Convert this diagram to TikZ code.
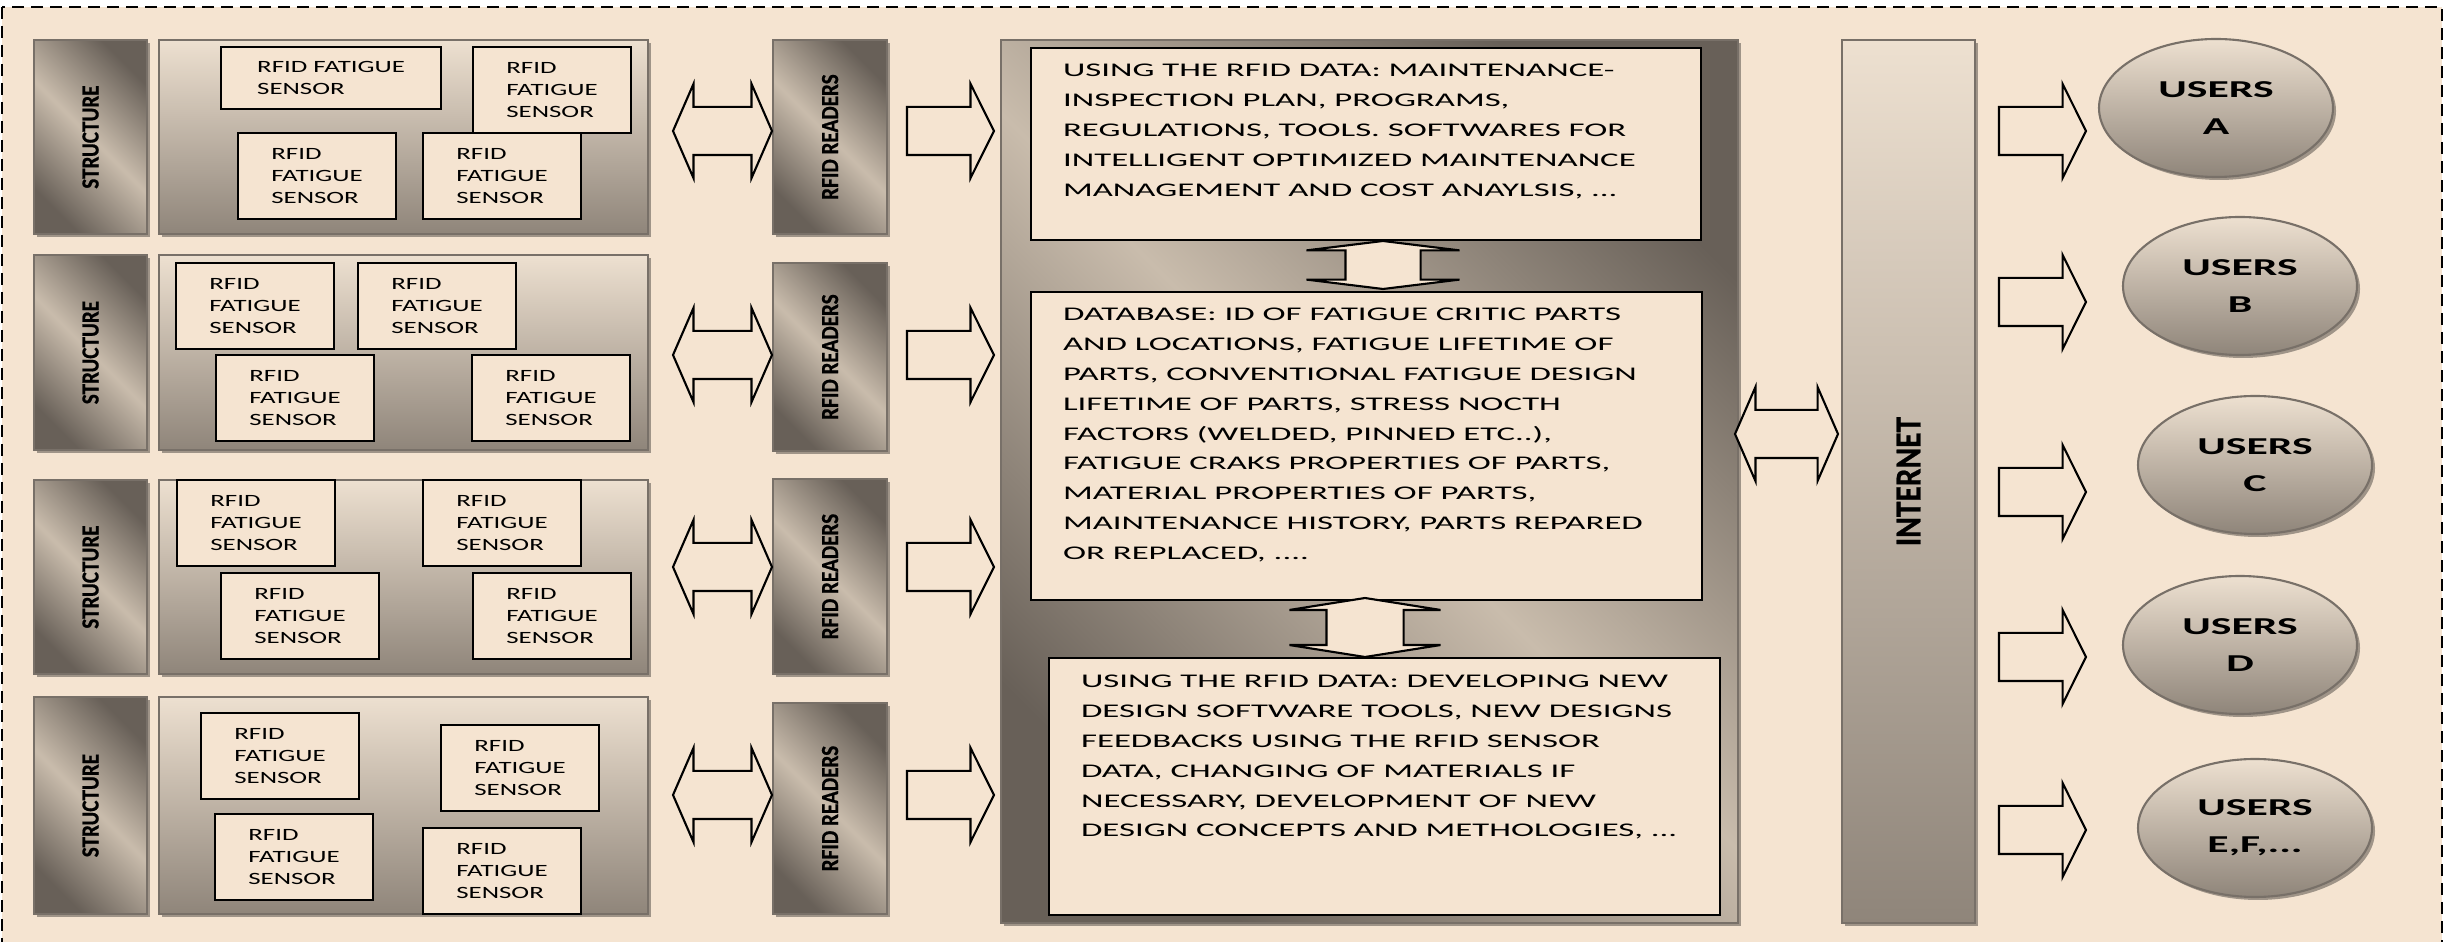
\documentclass[tikz,border=0pt]{standalone}
\usepackage{fontspec}
\usepackage{tikz}
\usetikzlibrary{positioning, shapes.geometric, shapes.arrows, shadows}

\setmainfont{Carlito}
\newfontfamily\boxfont[FakeStretch=1.8]{Carlito}
\newfontfamily\sensfont[FakeStretch=1.56]{Carlito}
\newfontfamily\sidefont[FakeStretch=0.86, FakeBold=0.6]{Carlito}

\definecolor{bgpeach}{RGB}{245,228,209}
\definecolor{gdark}{RGB}{104,96,88}
\definecolor{glight}{RGB}{201,188,172}
\definecolor{plight}{RGB}{237,224,208}
\definecolor{pdark}{RGB}{143,133,122}
\definecolor{gborder}{RGB}{120,112,104}

\begin{document}
\begin{tikzpicture}[line width=0.6pt]

	\tikzset{
		outerframe/.style={draw=black, line width=0.5pt, dash pattern=on 0.12cm off 0.07cm, fill=bgpeach},
		shadowed/.style={drop shadow={shadow xshift=0.03cm, shadow yshift=-0.03cm, opacity=0.35, fill=black}},
		diag/.style={top color=gdark, bottom color=gdark, middle color=glight, shading angle=135},
		sidebox/.style={draw=gborder, anchor=north west, minimum width=1.13cm, inner sep=0pt, diag, shadowed,
				font=\sidefont\bfseries\fontsize{7}{8}\selectfont},
		panel/.style={draw=gborder, anchor=north west, minimum width=4.89cm, inner sep=0pt,
				top color=plight, bottom color=pdark, shadowed},
		sensor/.style={draw=black, fill=bgpeach, anchor=north west, minimum width=1.58cm, minimum height=0.86cm,
				inner sep=0pt, align=left, font=\sensfont\fontsize{4.9}{6.26}\selectfont},
		txtbox/.style={draw=black, fill=bgpeach, anchor=north west, minimum width=6.71cm, inner sep=0pt},
		boxtext/.style={inner sep=0pt, align=left, font=\boxfont\fontsize{5.5}{8.5}\selectfont},
		users/.style={ellipse, draw=gborder, top color=plight, bottom color=pdark, shadowed,
				minimum width=2.34cm, minimum height=1.38cm, inner sep=0pt, align=center,
				font=\boxfont\bfseries\fontsize{6.9}{10.5}\selectfont},
		fwd/.style={single arrow, draw=black, fill=bgpeach, inner sep=0pt, inner ysep=0.23cm,
				minimum height=0.87cm, minimum width=0.92cm, single arrow head extend=0.23cm,
				single arrow tip angle=127},
		twoway/.style={double arrow, draw=black, fill=bgpeach, inner sep=0pt, inner ysep=0.23cm,
				minimum width=0.92cm, double arrow head extend=0.23cm, double arrow tip angle=133},
	}

	\useasboundingbox (0,0) rectangle (24.56,-9.42);
	\draw[outerframe] (0.02,-0.07) rectangle (24.42,-9.60);

	% structures with their sensors
	\node[sidebox, minimum height=1.94cm] (str1) at (0.33,-0.39) {\rotatebox{90}{STRUCTURE}};
	\node[panel, minimum height=1.94cm] (pan1) at (1.58,-0.39) {};
	\node[sensor, minimum width=2.20cm, minimum height=0.62cm] (s11) at (2.20,-0.46) {RFID FATIGUE\\SENSOR};
	\node[sensor] (s12) at (4.72,-0.46) {RFID\\FATIGUE\\SENSOR};
	\node[sensor] (s13) at (2.37,-1.32) {RFID\\FATIGUE\\SENSOR};
	\node[sensor] (s14) at (4.22,-1.32) {RFID\\FATIGUE\\SENSOR};

	\node[sidebox, minimum height=1.95cm] (str2) at (0.33,-2.54) {\rotatebox{90}{STRUCTURE}};
	\node[panel, minimum height=1.95cm] (pan2) at (1.58,-2.54) {};
	\node[sensor] (s21) at (1.75,-2.62) {RFID\\FATIGUE\\SENSOR};
	\node[sensor] (s22) at (3.57,-2.62) {RFID\\FATIGUE\\SENSOR};
	\node[sensor] (s23) at (2.15,-3.54) {RFID\\FATIGUE\\SENSOR};
	\node[sensor] (s24) at (4.71,-3.54) {RFID\\FATIGUE\\SENSOR};

	\node[sidebox, minimum height=1.94cm] (str3) at (0.33,-4.79) {\rotatebox{90}{STRUCTURE}};
	\node[panel, minimum height=1.94cm] (pan3) at (1.58,-4.79) {};
	\node[sensor] (s31) at (1.76,-4.79) {RFID\\FATIGUE\\SENSOR};
	\node[sensor] (s32) at (4.22,-4.79) {RFID\\FATIGUE\\SENSOR};
	\node[sensor] (s33) at (2.20,-5.72) {RFID\\FATIGUE\\SENSOR};
	\node[sensor] (s34) at (4.72,-5.72) {RFID\\FATIGUE\\SENSOR};

	\node[sidebox, minimum height=2.17cm] (str4) at (0.33,-6.96) {\rotatebox{90}{STRUCTURE}};
	\node[panel, minimum height=2.17cm] (pan4) at (1.58,-6.96) {};
	\node[sensor] (s41) at (2.00,-7.12) {RFID\\FATIGUE\\SENSOR};
	\node[sensor] (s42) at (4.40,-7.24) {RFID\\FATIGUE\\SENSOR};
	\node[sensor] (s43) at (2.14,-8.13) {RFID\\FATIGUE\\SENSOR};
	\node[sensor] (s44) at (4.22,-8.27) {RFID\\FATIGUE\\SENSOR};

	% readers
	\node[sidebox, minimum width=1.14cm, minimum height=1.94cm] (rd1) at (7.72,-0.39) {\rotatebox{90}{RFID READERS}};
	\node[sidebox, minimum width=1.14cm, minimum height=1.88cm] (rd2) at (7.72,-2.62) {\rotatebox{90}{RFID READERS}};
	\node[sidebox, minimum width=1.14cm, minimum height=1.95cm] (rd3) at (7.72,-4.78) {\rotatebox{90}{RFID READERS}};
	\node[sidebox, minimum width=1.14cm, minimum height=2.11cm] (rd4) at (7.72,-7.02) {\rotatebox{90}{RFID READERS}};

	\node[twoway, minimum height=0.99cm] (da1) at (7.225,-1.31) {};
	\node[twoway, minimum height=0.99cm] (da2) at (7.225,-3.55) {};
	\node[twoway, minimum height=0.99cm] (da3) at (7.225,-5.67) {};
	\node[twoway, minimum height=0.99cm] (da4) at (7.225,-7.95) {};

	\node[fwd] (fa1) at (9.445,-1.31) {};
	\node[fwd] (fa2) at (9.445,-3.55) {};
	\node[fwd] (fa3) at (9.445,-5.67) {};
	\node[fwd] (fa4) at (9.445,-7.95) {};

	% data handling
	\node[draw=gborder, anchor=north west, minimum width=7.37cm, minimum height=8.83cm, diag, shadowed] (data) at (10.00,-0.39) {};

	\node[txtbox, minimum width=6.70cm, minimum height=1.92cm] (b1) at (10.30,-0.47) {};
	\node[txtbox, minimum height=3.08cm] (b2) at (10.30,-2.91) {};
	\node[txtbox, minimum height=2.57cm] (b3) at (10.48,-6.57) {};

	\node[boxtext, below right=0.16cm and 0.32cm of b1.north west] (t1) {USING THE RFID DATA: MAINTENANCE-\\INSPECTION PLAN, PROGRAMS,\\REGULATIONS, TOOLS. SOFTWARES FOR\\INTELLIGENT OPTIMIZED MAINTENANCE\\MANAGEMENT AND COST ANAYLSIS, ...};
	\node[boxtext, below right=0.16cm and 0.32cm of b2.north west] (t2) {DATABASE: ID OF FATIGUE CRITIC PARTS\\AND LOCATIONS, FATIGUE LIFETIME OF\\PARTS, CONVENTIONAL FATIGUE DESIGN\\LIFETIME OF PARTS, STRESS NOCTH\\FACTORS (WELDED, PINNED ETC..),\\FATIGUE CRAKS PROPERTIES OF PARTS,\\MATERIAL PROPERTIES OF PARTS,\\MAINTENANCE HISTORY, PARTS REPARED\\OR REPLACED, ....};
	\node[boxtext, below right=0.17cm and 0.32cm of b3.north west] (t3) {USING THE RFID DATA: DEVELOPING NEW\\DESIGN SOFTWARE TOOLS, NEW DESIGNS\\FEEDBACKS USING THE RFID SENSOR\\DATA, CHANGING OF MATERIALS IF\\NECESSARY, DEVELOPMENT OF NEW\\DESIGN CONCEPTS AND METHOLOGIES, ...};

	\node[twoway, rotate=90, minimum height=0.48cm, minimum width=1.51cm, inner ysep=0.365cm,
		double arrow head extend=0.39cm, double arrow tip angle=166] (va1) at (13.83,-2.65) {};
	\node[twoway, rotate=90, minimum height=0.59cm, minimum width=1.49cm, inner ysep=0.375cm,
		double arrow head extend=0.37cm, double arrow tip angle=162] (va2) at (13.65,-6.275) {};

	% internet and users
	\node[twoway, minimum height=1.03cm] (dn) at (17.865,-4.34) {};
	\node[draw=gborder, anchor=north west, minimum width=1.33cm, minimum height=8.83cm, inner sep=0pt,
		top color=plight, bottom color=pdark, shadowed, font=\sidefont\bfseries\fontsize{10.4}{12}\selectfont]
		(inet) at (18.41,-0.39) {\rotatebox{90}{INTERNET}};

	\node[fwd] (ua) at (20.365,-1.31) {};
	\node[fwd] (ub) at (20.365,-3.02) {};
	\node[fwd] (uc) at (20.365,-4.92) {};
	\node[fwd] (ud) at (20.365,-6.57) {};
	\node[fwd] (ue) at (20.365,-8.30) {};

	\node[users] (usrA) at (22.16,-1.08) {USERS\\A};
	\node[users] (usrB) at (22.40,-2.86) {USERS\\B};
	\node[users] (usrC) at (22.55,-4.65) {USERS\\C};
	\node[users] (usrD) at (22.40,-6.45) {USERS\\D};
	\node[users] (usrE) at (22.55,-8.28) {USERS\\E,F,...};

\end{tikzpicture}
\end{document}
